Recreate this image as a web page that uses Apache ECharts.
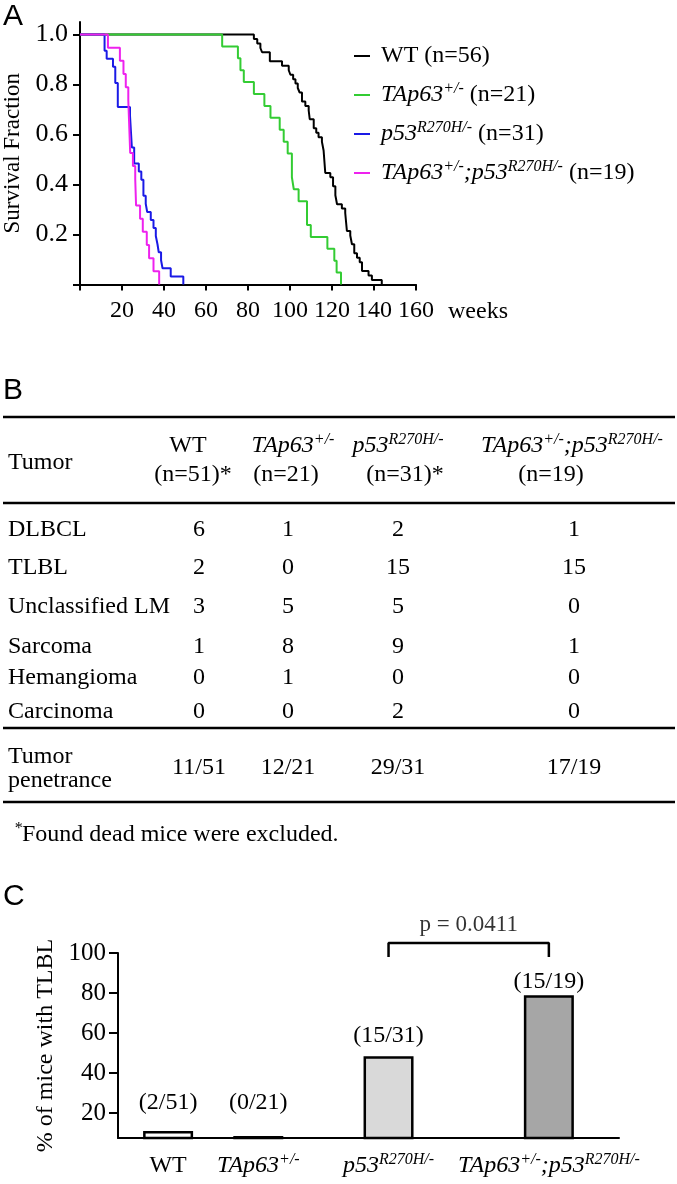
<!DOCTYPE html>
<html>
<head>
<meta charset="utf-8">
<script src="https://cdn.jsdelivr.net/npm/echarts@6/dist/echarts.min.js"></script>
<style>
  html, body { margin: 0; padding: 0; background: #fff; }
  #fig { width: 677px; height: 1184px; }
</style>
</head>
<body>
<div id="fig"></div>
<script>
// ---- panel A: survival, [weeks, surviving fraction] ----
const wtSurv = [[0, 1], [82.8, 0.982], [84.4, 0.964], [85.9, 0.946], [86.7, 0.929], [90.4, 0.893], [96.2, 0.875],
  [99.4, 0.857], [100.2, 0.839], [101.5, 0.821], [102.6, 0.804], [103.7, 0.786], [104.6, 0.768], [105.7, 0.732],
  [107.3, 0.714], [108.9, 0.696], [109.4, 0.661], [111.3, 0.625], [112.5, 0.607], [113.6, 0.589], [115.2, 0.571],
  [116.0, 0.536], [116.8, 0.446], [119.2, 0.429], [120.5, 0.393], [121.6, 0.357], [122.4, 0.321], [124.7, 0.304],
  [126.3, 0.286], [127.1, 0.214], [128.7, 0.196], [129.5, 0.161], [130.6, 0.125], [131.9, 0.107], [133.2, 0.089],
  [134.3, 0.054], [137.4, 0.036], [139.0, 0.018], [143.7, 0]]
const tap63Surv = [[0, 1], [67.7, 0.952], [75.2, 0.905], [76.4, 0.857], [78.0, 0.810], [82.8, 0.762], [87.8, 0.714],
  [90.7, 0.667], [95.1, 0.619], [97.0, 0.571], [98.9, 0.524], [100.9, 0.429], [101.8, 0.381], [104.1, 0.333],
  [108.1, 0.238], [109.9, 0.190], [117.8, 0.143], [121.1, 0.095], [122.2, 0.048], [124.3, 0]]
const p53Surv = [[0, 1], [11.7, 0.935], [12.7, 0.903], [15.7, 0.871], [16.8, 0.806], [18.0, 0.710], [23.8, 0.677],
  [24.7, 0.548], [25.8, 0.484], [28.0, 0.452], [29.2, 0.419], [30.2, 0.355], [31.3, 0.323], [32.0, 0.290],
  [33.7, 0.258], [35.0, 0.226], [36.1, 0.194], [36.9, 0.161], [37.5, 0.129], [38.6, 0.097], [39.3, 0.065],
  [43.2, 0.032], [49.2, 0]]
const comboSurv = [[0, 1], [13.3, 0.947], [19.0, 0.895], [20.7, 0.842], [21.8, 0.789], [23.0, 0.737], [23.9, 0.526],
  [25.2, 0.474], [26.3, 0.421], [26.7, 0.316], [28.6, 0.263], [29.9, 0.211], [31.8, 0.158], [32.9, 0.105],
  [35.0, 0.053], [37.7, 0]]
const survivalN = [56, 21, 31, 19]
const weekTicks = [20, 40, 60, 80, 100, 120, 140, 160]
const survTicks = [0.2, 0.4, 0.6, 0.8, 1.0]

// ---- panel B: tumor spectrum table ----
const tumorTypes = ['DLBCL', 'TLBL', 'Unclassified LM', 'Sarcoma', 'Hemangioma', 'Carcinoma']
const wtTumors = [6, 2, 3, 1, 0, 0]
const tap63Tumors = [1, 0, 5, 8, 1, 0]
const p53Tumors = [2, 15, 5, 9, 0, 2]
const comboTumors = [1, 15, 0, 1, 0, 0]
const cohortN = ['(n=51)*', '(n=21)', '(n=31)*', '(n=19)']
const penetrance = ['11/51', '12/21', '29/31', '17/19']

// ---- panel C: % of mice with TLBL ----
const tlblPct = [11, 8.5, 48.4, 78.9]
const tlblCounts = ['(2/51)', '(0/21)', '(15/31)', '(15/19)']
const pValue = 'p = 0.0411'
const pctTicks = [20, 40, 60, 80, 100]

// genotype labels (rich text)
const genoRich = [
  '{n|WT}',
  '{i|TAp63}{s|+/-}',
  '{i|p53}{s|R270H/-}',
  '{i|TAp63}{s|+/-}{i|;p53}{s|R270H/-}'
]

const SERIF = '"Liberation Serif", "Times New Roman", serif'
const SANS = '"Liberation Sans", Arial, sans-serif'
const rich = {
  n: { fontFamily: SERIF, fontSize: 24, lineHeight: 28, color: '#000' },
  i: { fontFamily: SERIF, fontSize: 24, lineHeight: 28, fontStyle: 'italic', color: '#000' },
  s: { fontFamily: SERIF, fontSize: 16, lineHeight: 18, fontStyle: 'italic', verticalAlign: 'top', color: '#000' }
}

const survColors = ['#000000', '#33cc33', '#1a1ae6', '#ee22ee']
const survNames = ['WT', 'TAp63', 'p53', 'combo']
const survData = [wtSurv, tap63Surv, p53Surv, comboSurv]

// layout of panel B / C (pixels / axis slots)
const colX = [199, 288, 398, 574]
const headX = [188, 293, 398, 572]
const nX = [193, 286, 405, 551]
const rowY = [530, 568, 607, 647, 678, 712]
const groupSlot = [1.0, 2.8, 5.4, 8.6]
const barFills = ['#ffffff', '#000000', '#d9d9d9', '#a6a6a6']
const labelGap = [16, 21, 8, 1]

function txt (x, y, text, align, size, family) {
  return {
    type: 'text', x: x, y: y, silent: true,
    style: {
      text: text, rich: rich, align: align || 'left', verticalAlign: 'middle',
      fontFamily: family || SERIF, fontSize: size || 24, fill: '#000'
    }
  }
}
function rule (y) {
  return { type: 'line', silent: true, shape: { x1: 3, y1: y, x2: 675, y2: y }, style: { stroke: '#000', lineWidth: 2.5 } }
}

const graphic = [
  txt(3, 17, 'A', 'left', 30, SANS),
  txt(3, 391, 'B', 'left', 30, SANS),
  txt(3, 897, 'C', 'left', 30, SANS),
  txt(448, 312, 'weeks'),
  rule(417), rule(503), rule(728), rule(802),
  txt(8, 463, 'Tumor'),
  txt(8, 757, 'Tumor'),
  txt(8, 781, 'penetrance'),
  txt(14, 835, '{s|*}{n|Found dead mice were excluded.}')
]
genoRich.forEach((g, i) => {
  graphic.push(txt(headX[i], 446, g, 'center'))
  graphic.push(txt(nX[i], 475, cohortN[i], 'center'))
  graphic.push(txt(colX[i], 768, penetrance[i], 'center'))
})
const tumorCols = [wtTumors, tap63Tumors, p53Tumors, comboTumors]
tumorTypes.forEach((t, r) => {
  graphic.push(txt(8, rowY[r], t))
  tumorCols.forEach((col, c) => graphic.push(txt(colX[c], rowY[r], String(col[r]), 'center')))
})

const chart = echarts.init(document.getElementById('fig'))
const axisBlack = { lineStyle: { color: '#000', width: 2 } }

chart.setOption({
  animation: false,
  backgroundColor: '#fff',
  textStyle: { fontFamily: SERIF, color: '#000' },
  grid: [
    { left: 79, right: 261, top: 22, bottom: 899.5 },
    { left: 118, right: 58, top: 953, bottom: 46 }
  ],
  legend: {
    data: survNames,
    orient: 'vertical',
    left: 349,
    top: 39,
    itemWidth: 16,
    itemHeight: 2,
    itemGap: 13,
    icon: 'rect',
    selectedMode: false,
    formatter: name => {
      const i = survNames.indexOf(name)
      return ' ' + genoRich[i] + '{n| (n=' + survivalN[i] + ')}'
    },
    textStyle: { fontFamily: SERIF, fontSize: 24, color: '#000', rich: rich }
  },
  xAxis: [
    {
      type: 'value', gridIndex: 0, min: 0, max: 160, interval: 20,
      axisLine: axisBlack,
      axisTick: { length: 6, lineStyle: { color: '#000', width: 2 } },
      axisLabel: { customValues: weekTicks, margin: 14, fontSize: 24, fontFamily: SERIF, color: '#000' },
      splitLine: { show: false }
    },
    {
      type: 'value', gridIndex: 1, min: 0, max: 10,
      axisLine: axisBlack,
      axisTick: { show: false },
      axisLabel: {
        customValues: groupSlot, margin: 14,
        formatter: v => genoRich[groupSlot.indexOf(v)] || '',
        rich: rich
      },
      splitLine: { show: false }
    }
  ],
  yAxis: [
    {
      type: 'value', gridIndex: 0, min: 0, max: 1.05,
      name: 'Survival Fraction', nameLocation: 'middle', nameGap: 56,
      nameTextStyle: { fontFamily: SERIF, fontSize: 23, color: '#000' },
      axisLine: axisBlack,
      axisTick: { customValues: [0, 0.2, 0.4, 0.6, 0.8, 1.0], length: 7, lineStyle: { color: '#000', width: 2 } },
      axisLabel: {
        customValues: survTicks, margin: 12, fontSize: 26, fontFamily: SERIF, color: '#000',
        formatter: v => v.toFixed(1)
      },
      splitLine: { show: false }
    },
    {
      type: 'value', gridIndex: 1, min: 7.5, max: 100,
      name: '% of mice with TLBL', nameLocation: 'middle', nameGap: 57,
      nameTextStyle: { fontFamily: SERIF, fontSize: 24, color: '#000' },
      axisLine: axisBlack,
      axisTick: { customValues: pctTicks, length: 9, lineStyle: { color: '#000', width: 2 } },
      axisLabel: { customValues: pctTicks, margin: 12, fontSize: 25, fontFamily: SERIF, color: '#000' },
      splitLine: { show: false }
    }
  ],
  graphic: graphic,
  series: survData.map((d, i) => ({
    name: survNames[i],
    type: 'line',
    step: 'end',
    xAxisIndex: 0,
    yAxisIndex: 0,
    data: d,
    symbol: 'none',
    color: survColors[i],
    lineStyle: { color: survColors[i], width: 2 }
  })).concat([
    {
      type: 'bar',
      xAxisIndex: 1,
      yAxisIndex: 1,
      barWidth: 50,
      data: groupSlot.map((x, i) => ({
        value: [x, tlblPct[i]],
        itemStyle: { color: barFills[i] },
        label: { distance: labelGap[i] }
      })),
      itemStyle: { borderColor: '#000', borderWidth: 2.5 },
      label: {
        show: true, position: 'top',
        formatter: p => tlblCounts[p.dataIndex],
        fontFamily: SERIF, fontSize: 24, color: '#000'
      }
    },
    {
      // significance bracket between p53 and compound mutant
      type: 'line',
      xAxisIndex: 1,
      yAxisIndex: 1,
      clip: false,
      symbol: 'none',
      data: [[groupSlot[2], 98], [groupSlot[2], 105], [groupSlot[3], 105], [groupSlot[3], 98]],
      lineStyle: { color: '#000', width: 2.5 }
    },
    {
      type: 'scatter',
      xAxisIndex: 1,
      yAxisIndex: 1,
      clip: false,
      symbolSize: 1,
      itemStyle: { color: 'transparent' },
      data: [[(groupSlot[2] + groupSlot[3]) / 2, 114]],
      label: { show: true, position: 'inside', formatter: pValue, fontFamily: SERIF, fontSize: 23, color: '#000' }
    }
  ])
})
</script>
</body>
</html>
